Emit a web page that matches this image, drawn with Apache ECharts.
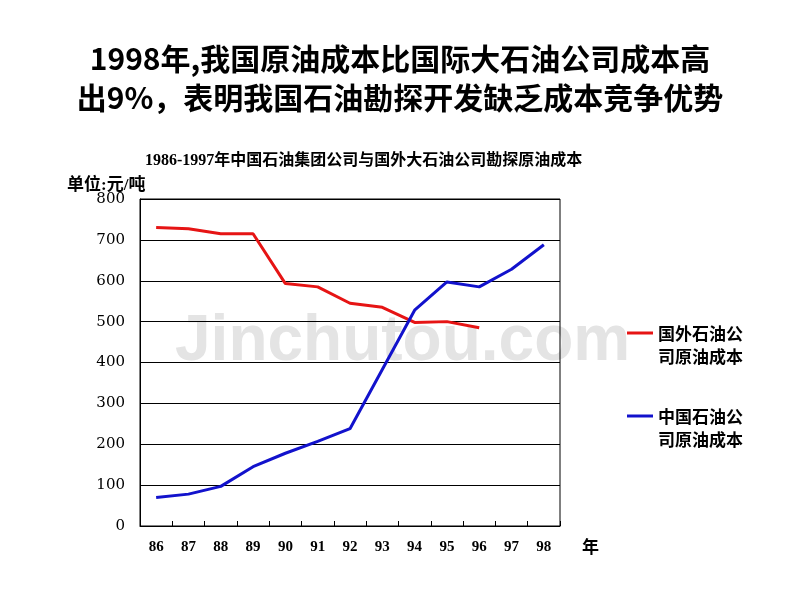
<!DOCTYPE html>
<html>
<head>
<meta charset="utf-8">
<script src="https://cdn.jsdelivr.net/npm/echarts@6/dist/echarts.min.js"></script>
<style>html,body{margin:0;padding:0;background:#fff}#c{width:800px;height:600px}</style>
</head>
<body>
<div id="c"></div>
<script>
const years = ['86','87','88','89','90','91','92','93','94','95','96','97','98'];
const foreignCost = [730, 727, 715, 715, 593, 585, 545, 535, 498, 500, 485];
const chinaCost = [70, 78, 97, 145, 178, 207, 238, 383, 528, 597, 585, 628, 688];
const yTicks = [0, 100, 200, 300, 400, 500, 600, 700, 800];
const foreignName = '国外石油公\n司原油成本';
const chinaName = '中国石油公\n司原油成本';
const titleLine1 = '1998年,我国原油成本比国际大石油公司成本高';
const titleLine2 = '出9%，表明我国石油勘探开发缺乏成本竞争优势';

const serif = '"Liberation Serif", "DejaVu Serif", "Noto Sans CJK SC", serif';
const cjk = '"Noto Sans CJK SC", sans-serif';
const red = '#e61414';
const blue = '#1212cc';

const chart = echarts.init(document.getElementById('c'));
chart.setOption({
  backgroundColor: '#fff',
  animation: false,
  title: [
    {
      text: '1986-1997年中国石油集团公司与国外大石油公司勘探原油成本',
      left: 140, top: 148,
      textStyle: { fontFamily: serif, fontSize: 16, fontWeight: 'bold', color: '#000' }
    },
    {
      text: '单位:元/吨',
      left: 62, top: 172,
      textStyle: { fontFamily: serif, fontSize: 17, fontWeight: 'bold', color: '#000' }
    }
  ],
  grid: { left: 140, right: 240, top: 199, bottom: 74, show: true, borderColor: '#000', borderWidth: 1, backgroundColor: 'transparent' },
  xAxis: {
    type: 'category', data: years, boundaryGap: true,
    name: '年', nameLocation: 'end', nameGap: 22,
    nameTextStyle: { fontFamily: cjk, fontSize: 17, fontWeight: 'bold', color: '#000', verticalAlign: 'top', padding: [12, 0, 0, 0] },
    axisLine: { show: true, lineStyle: { color: '#000', width: 1 } },
    axisTick: { show: true, inside: true, length: 5, interval: 0, lineStyle: { color: '#000' } },
    axisLabel: { interval: 0, margin: 14, fontFamily: serif, fontSize: 15, fontWeight: 'bold', color: '#000' },
    splitLine: { show: false }
  },
  yAxis: {
    type: 'value', min: yTicks[0], max: yTicks[yTicks.length - 1], interval: 100,
    axisLine: { show: true, lineStyle: { color: '#000', width: 1 } },
    axisTick: { show: false },
    axisLabel: { margin: 15, fontFamily: '"DejaVu Serif", serif', fontSize: 15, color: '#000' },
    splitLine: { show: true, lineStyle: { color: '#000', width: 1 } }
  },
  graphic: [
    { type: 'text', x: 400, y: 44, silent: true,
      style: { text: titleLine1, font: 'bold 30px "Noto Sans CJK SC"', fill: '#000', align: 'center' } },
    { type: 'text', x: 400, y: 83, silent: true,
      style: { text: titleLine2, font: 'bold 30px "Noto Sans CJK SC"', fill: '#000', align: 'center' } },
    { type: 'text', left: 175, top: 310, z: -1, silent: true,
      style: { text: 'Jinchutou.com', font: 'bold 64px "Liberation Sans", Arial, sans-serif', fill: '#e4e4e4' } },
    { type: 'line', shape: { x1: 627, y1: 333, x2: 653, y2: 333 }, style: { stroke: red, lineWidth: 3 } },
    { type: 'text', left: 658, top: 322,
      style: { text: foreignName, font: 'bold 17px "Noto Sans CJK SC"', fill: '#000', lineHeight: 23 } },
    { type: 'line', shape: { x1: 627, y1: 416, x2: 653, y2: 416 }, style: { stroke: blue, lineWidth: 3 } },
    { type: 'text', left: 658, top: 405,
      style: { text: chinaName, font: 'bold 17px "Noto Sans CJK SC"', fill: '#000', lineHeight: 23 } }
  ],
  series: [
    { name: foreignName, type: 'line', data: foreignCost, showSymbol: false, symbol: 'none',
      lineStyle: { color: red, width: 3 }, itemStyle: { color: red }, z: 3 },
    { name: chinaName, type: 'line', data: chinaCost, showSymbol: false, symbol: 'none',
      lineStyle: { color: blue, width: 3 }, itemStyle: { color: blue }, z: 4 }
  ]
});
</script>
</body>
</html>
